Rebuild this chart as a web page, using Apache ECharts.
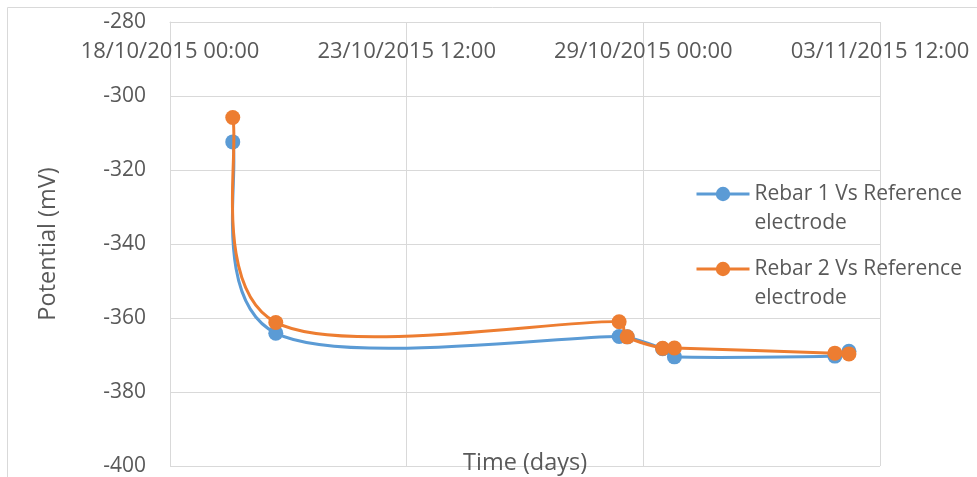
<!DOCTYPE html>
<html>
<head>
<meta charset="utf-8">
<script src="https://cdn.jsdelivr.net/npm/echarts@6/dist/echarts.min.js"></script>
<style>
html,body{margin:0;padding:0;background:#fff;}
#chart{width:977px;height:477px;}
</style>
</head>
<body>
<div id="chart"></div>
<script>
const seriesNames = ['Rebar 1 Vs Reference electrode', 'Rebar 2 Vs Reference electrode'];
const times = ['19/10/2015 11:00', '20/10/2015 11:00', '28/10/2015 10:30', '28/10/2015 15:00',
               '29/10/2015 10:45', '29/10/2015 17:20', '02/11/2015 10:50', '02/11/2015 18:40'];
const rebar1 = [-312.4, -364.1, -365.0, -365.1, -368.3, -370.5, -370.3, -369.0];
const rebar2 = [-305.8, -361.2, -361.0, -365.1, -368.2, -368.1, -369.5, -369.7];
const xTickStart = '18/10/2015 00:00';
const xTickStepDays = 5.5;
const xTickCount = 4;
const yMin = -400, yMax = -280, yStep = 20;

function parseDate(s) {
  const m = s.match(/(\d+)\/(\d+)\/(\d+) (\d+):(\d+)/);
  return Date.UTC(+m[3], +m[2] - 1, +m[1], +m[4], +m[5]);
}
const t0 = parseDate(xTickStart);
const DAY = 86400000;
function toDays(s) { return (parseDate(s) - t0) / DAY; }
function pad(n) { return (n < 10 ? '0' : '') + n; }
function fmt(days) {
  const d = new Date(t0 + Math.round(days * DAY));
  return pad(d.getUTCDate()) + '/' + pad(d.getUTCMonth() + 1) + '/' + d.getUTCFullYear() + ' ' +
         pad(d.getUTCHours()) + ':' + pad(d.getUTCMinutes());
}
const xs = times.map(toDays);
const allVals = [rebar1, rebar2];
const colors = ['#5B9BD5', '#ED7D31'];
const txt = '#595959';
const grid = '#d9d9d9';
const font = 'Open Sans';

const chart = echarts.init(document.getElementById('chart'), null, {renderer: 'canvas'});

function legendFor(i, top) {
  return {
    data: [seriesNames[i]],
    left: 695, top: top, padding: 0,
    itemWidth: 53, itemHeight: 18, itemGap: 0,
    lineStyle: {width: 3, opacity: 1},
    formatter: n => '\n' + n.replace(' electrode', '\nelectrode'),
    textStyle: {color: txt, fontFamily: font, fontSize: 21, lineHeight: 29}
  };
}

// Excel-style smoothed segment (Bezier) drawn through the axis scales
function smoothRender(si) {
  return function (params, api) {
    const i = params.dataIndex;
    const vals = allVals[si];
    const n = vals.length;
    if (i >= n - 1) return null;
    const P = k => api.coord([xs[Math.max(0, Math.min(n - 1, k))], vals[Math.max(0, Math.min(n - 1, k))]]);
    const p0 = P(i - 1), p1 = P(i), p2 = P(i + 1), p3 = P(i + 2);
    const dist = (a, b) => Math.hypot(a[0] - b[0], a[1] - b[1]);
    const d12 = dist(p1, p2), d02 = dist(p0, p2), d13 = dist(p1, p3);
    let f0 = 1 / 6, f1 = 1 / 6;
    if (d02 / 6 >= d12 / 2 && d02 > 0) f0 = (d12 / 2) / d02;
    if (d13 / 6 >= d12 / 2 && d13 > 0) f1 = (d12 / 2) / d13;
    return {
      type: 'bezierCurve',
      shape: {
        x1: p1[0], y1: p1[1], x2: p2[0], y2: p2[1],
        cpx1: p1[0] + f0 * (p2[0] - p0[0]), cpy1: p1[1] + f0 * (p2[1] - p0[1]),
        cpx2: p2[0] - f1 * (p3[0] - p1[0]), cpy2: p2[1] - f1 * (p3[1] - p1[1])
      },
      style: {stroke: colors[si], lineWidth: 3, fill: null, lineCap: 'round'},
      silent: true
    };
  };
}

const series = [];
[0, 1].forEach(si => {
  series.push({
    name: seriesNames[si] + ' curve', type: 'custom', z: 2 + si * 2,
    renderItem: smoothRender(si),
    data: allVals[si].map((v, j) => [xs[j], v]),
    encode: {x: 0, y: 1}
  });
  series.push({
    name: seriesNames[si], type: 'line', z: 3 + si * 2,
    symbol: 'circle', symbolSize: 15, showSymbol: true,
    lineStyle: {width: 3, color: colors[si], opacity: 0},
    itemStyle: {color: colors[si]},
    data: allVals[si].map((v, j) => [xs[j], v])
  });
});

chart.setOption({
  animation: false,
  color: colors,
  graphic: [{
    type: 'rect', shape: {x: 7.5, y: 7.5, width: 1000, height: 500},
    style: {fill: 'none', stroke: grid, lineWidth: 1}, silent: true
  }],
  title: {
    text: 'Time (days)', left: 463, top: 451, padding: 0,
    textStyle: {color: txt, fontFamily: font, fontSize: 23.5, fontWeight: 'normal'}
  },
  legend: [legendFor(0, 150.5), legendFor(1, 225.5)],
  grid: {left: 170, right: 97, top: 22, bottom: 11},
  xAxis: {
    type: 'value', position: 'top',
    min: 0, max: xTickStepDays * (xTickCount - 1), interval: xTickStepDays,
    axisLine: {show: true, lineStyle: {color: grid, width: 1}},
    axisTick: {show: false},
    axisLabel: {inside: true, margin: 19, color: txt, fontFamily: font, fontSize: 22, formatter: v => fmt(v)},
    splitLine: {show: true, lineStyle: {color: grid, width: 1}}
  },
  yAxis: {
    type: 'value', min: yMin, max: yMax, interval: yStep,
    name: 'Potential (mV)', nameLocation: 'middle', nameGap: 110,
    nameTextStyle: {color: txt, fontFamily: font, fontSize: 23.5},
    axisLine: {show: true, lineStyle: {color: grid, width: 1}},
    axisTick: {show: false},
    axisLabel: {margin: 24, color: txt, fontFamily: font, fontSize: 21},
    splitLine: {show: true, lineStyle: {color: grid, width: 1}}
  },
  series: series
});
</script>
</body>
</html>
